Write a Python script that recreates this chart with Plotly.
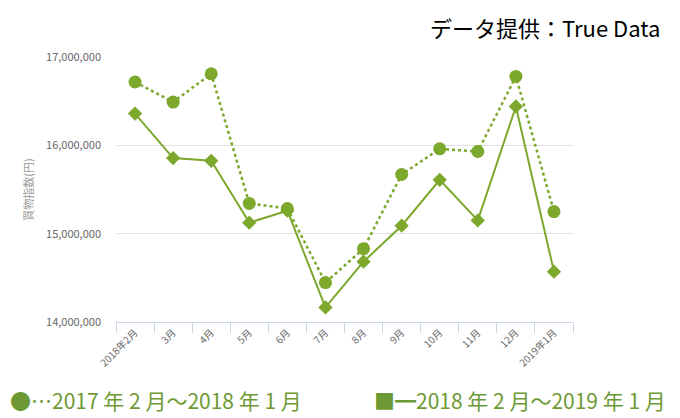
import plotly.graph_objects as go

categories = ["2018年2月", "3月", "4月", "5月", "6月", "7月", "8月", "9月", "10月", "11月", "12月", "2019年1月"]
prev_year = [16717000, 16490000, 16810000, 15342000, 15285000, 14446000, 14830000, 15670000, 15960000, 15930000, 16780000, 15250000]
this_year = [16360000, 15856000, 15825000, 15125000, 15260000, 14165000, 14683000, 15090000, 15610000, 15150000, 16440000, 14570000]
y_ticks = [14000000, 15000000, 16000000, 17000000]

GREEN = "#7CA82B"
GREEN_TXT = "#6D9935"
FONT = "Noto Sans CJK JP"

fig = go.Figure()
fig.add_trace(go.Scatter(
    x=categories, y=prev_year, mode="lines+markers",
    line=dict(color=GREEN, width=2.5, dash="dot"),
    marker=dict(symbol="circle", size=13, color=GREEN),
    showlegend=False,
))
fig.add_trace(go.Scatter(
    x=categories, y=this_year, mode="lines+markers",
    line=dict(color=GREEN, width=2),
    marker=dict(symbol="diamond", size=11, color=GREEN),
    showlegend=False,
))

# page shows the figure offset by the 8px body margin
fig.update_layout(
    width=672, height=410,
    margin=dict(l=108, r=107, t=49, b=96, autoexpand=False),
    paper_bgcolor="white", plot_bgcolor="white",
    font=dict(family=FONT, color="#666666"),
    xaxis=dict(
        type="category", range=[-0.5, 11.5], tickson="boundaries",
        showgrid=False, showline=True, linecolor="#ccd6eb", linewidth=1,
        ticks="outside", ticklen=10, tickcolor="#ccd6eb",
        tickangle=-45, tickfont=dict(size=10, color="#666666", family=FONT),
        fixedrange=True,
    ),
    yaxis=dict(
        range=[14000000, 17000000], tickvals=y_ticks, tickformat=",d",
        showgrid=True, gridcolor="#e0e0e0", gridwidth=1,
        zeroline=False, showline=False,
        tickfont=dict(size=11, color="#666666", family=FONT),
        ticklabelstandoff=14,
        title=dict(text="買物指数(円)", font=dict(size=11, color="#999999", family=FONT), standoff=10),
    ),
    annotations=[
        dict(text="データ提供：True Data", xref="paper", yref="paper", x=1.1947, y=1.183,
             xanchor="right", yanchor="top", showarrow=False,
             font=dict(size=22, color="#000000", family=FONT)),
        dict(text="●⋯2017 年 2 月～2018 年 1 月", xref="paper", yref="paper", x=-0.2363, y=-0.36,
             xanchor="left", yanchor="bottom", showarrow=False,
             font=dict(size=21, color=GREEN_TXT, family=FONT)),
        dict(text="■━2018 年 2 月～2019 年 1 月", xref="paper", yref="paper", x=1.2079, y=-0.36,
             xanchor="right", yanchor="bottom", showarrow=False,
             font=dict(size=21, color=GREEN_TXT, family=FONT)),
    ],
)

fig.write_html("out.html")
